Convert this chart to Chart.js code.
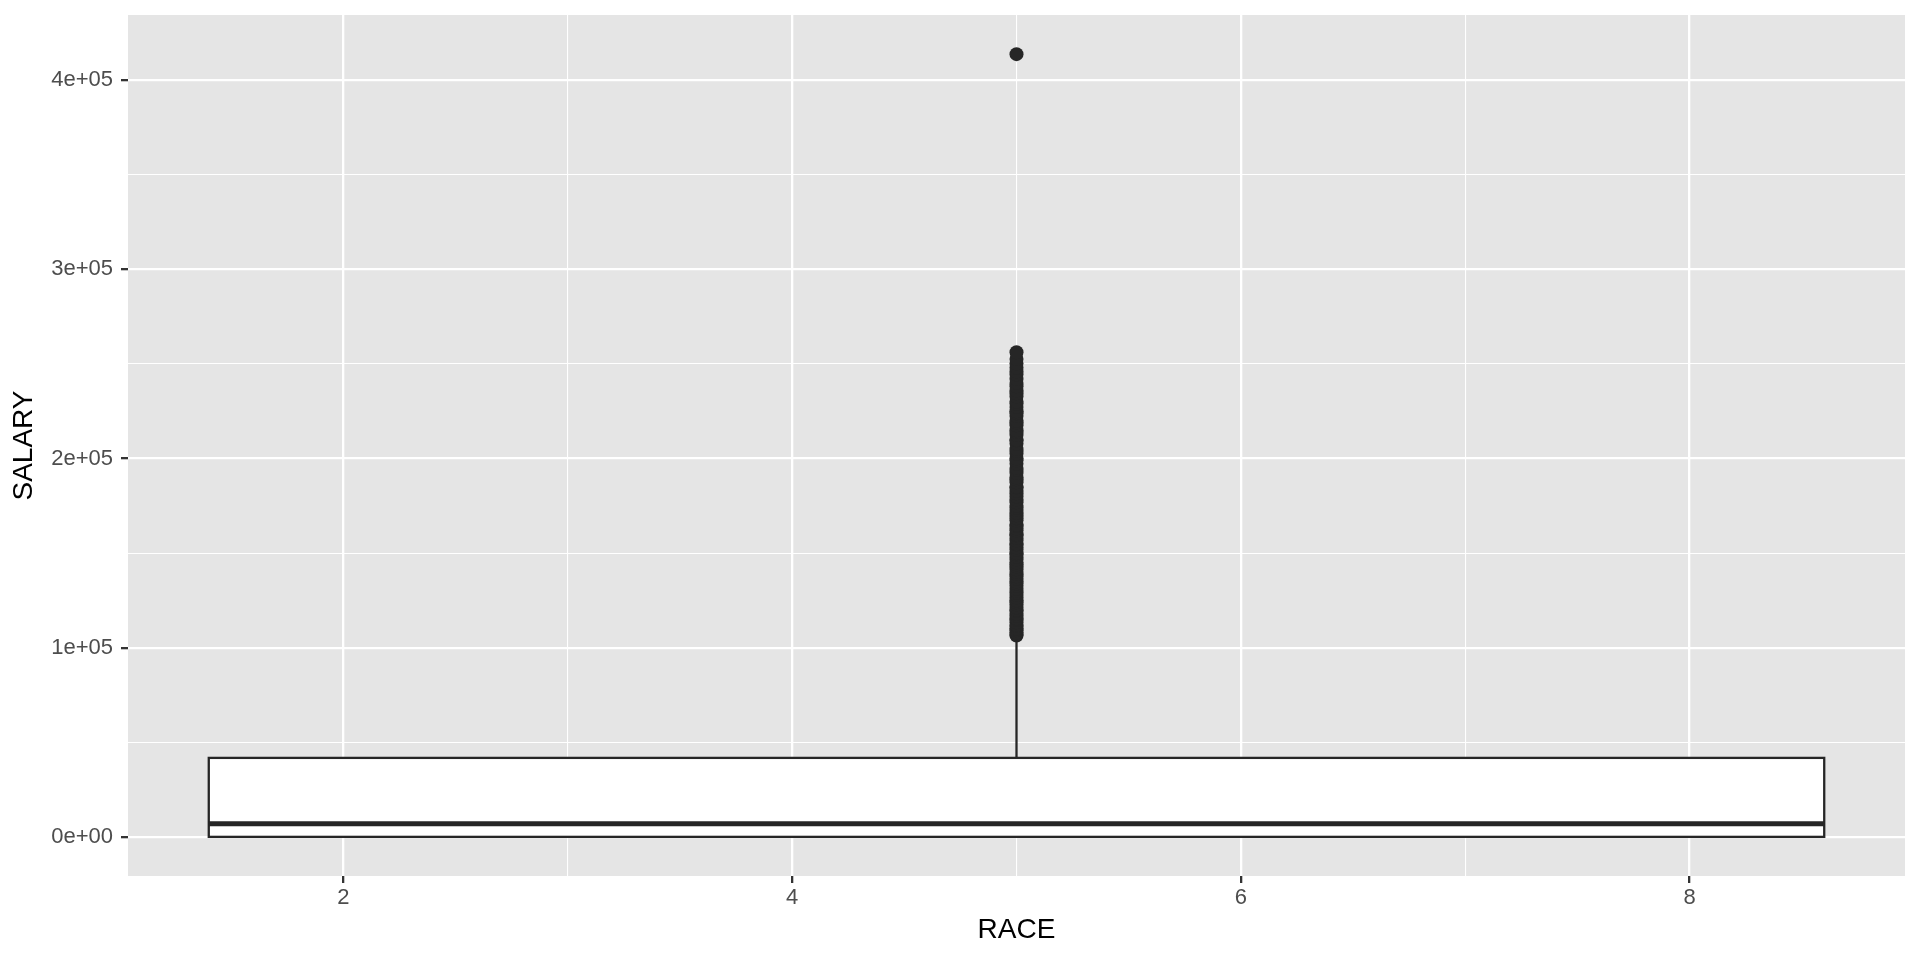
<!DOCTYPE html>
<html>
<head>
<meta charset="utf-8">
<title>SALARY by RACE</title>
<script src="https://cdn.jsdelivr.net/npm/chart.js@4.4.1/dist/chart.umd.min.js"></script>
<style>
  html, body { margin: 0; padding: 0; background: #fff; }
  #wrap { width: 1920px; height: 960px; position: relative; }
</style>
</head>
<body>
<div id="wrap"><canvas id="grafico"></canvas></div>
<script>
/* Boxplot SALARY x RACE (estilo ggplot) */

// caixa: RACE centrada em 5, largura de 1.4 a 8.6
const raceCenter = 5;
const boxXRange = [1.4, 8.6];
const boxStats = { lower: 0, median: 6870, upper: 41750, whiskerHigh: 104000 };

// outliers (SALARY)
const outliers = [
  106400, 107000, 108000, 109200, 110000, 111500, 112000, 113400, 114800, 115500,
  116900, 118000, 119500, 120000, 121300, 122800, 124000, 125000, 126500, 127900,
  129000, 130000, 131200, 132700, 134000, 135000, 136400, 137800, 139000, 140000,
  141500, 142900, 144000, 145000, 146600, 148000, 149300, 150000, 151800, 153000,
  154500, 155000, 156700, 158000, 159400, 160000, 161900, 163000, 164500, 165000,
  167200, 168500, 170000, 171400, 172800, 174000, 175000, 176900, 178300, 180000,
  181600, 183000, 184700, 185000, 187500, 189000, 190000, 192300, 194000, 195000,
  197200, 199000, 200000, 202500, 204000, 205000, 207800, 209500, 210000, 212400,
  214000, 215000, 217600, 219000, 220000, 222500, 224000, 225000, 227300, 229000,
  230000, 232800, 234500, 236000, 238200, 240000, 242000, 244500, 246000, 248000,
  250200, 252600, 256200, 413800
];

// eixos
const xLimits = [1.04, 8.96];
const xTickValues = [2, 3, 4, 5, 6, 7, 8];
const xTickLabels = ['2', '', '4', '', '6', '', '8'];
const yLimits = [-20690, 434490];
const yTickValues = [0, 50000, 100000, 150000, 200000, 250000, 300000, 350000, 400000];
const yTickLabels = ['0e+00', '', '1e+05', '', '2e+05', '', '3e+05', '', '4e+05'];

const TINTA = '#262626';
const FONTE = '"Liberation Sans", Arial, Helvetica, sans-serif';

// fundo cinza do painel
const fundoPainel = {
  id: 'fundoPainel',
  beforeDraw(chart) {
    const { ctx, chartArea: a } = chart;
    ctx.save();
    ctx.fillStyle = '#E5E5E5';
    ctx.fillRect(a.left, a.top, a.right - a.left, a.bottom - a.top);
    ctx.restore();
  }
};

// caixa (Q1..Q3) desenhada pelas escalas do gráfico
const caixa = {
  id: 'caixa',
  beforeDatasetsDraw(chart) {
    const { ctx, scales: { x, y } } = chart;
    const x0 = x.getPixelForValue(boxXRange[0]), x1 = x.getPixelForValue(boxXRange[1]);
    const y0 = y.getPixelForValue(boxStats.upper), y1 = y.getPixelForValue(boxStats.lower);
    ctx.save();
    ctx.fillStyle = '#FFFFFF';
    ctx.fillRect(x0, y0, x1 - x0, y1 - y0);
    ctx.lineWidth = 2.3;
    ctx.strokeStyle = TINTA;
    ctx.strokeRect(x0, y0, x1 - x0, y1 - y0);
    ctx.restore();
  }
};

function eixo(limites, valores, rotulos, extra) {
  const principal = c => c.tick && rotulos[valores.indexOf(c.tick.value)] !== '';
  return {
    type: 'linear',
    min: limites[0], max: limites[1],
    afterBuildTicks: s => { s.ticks = valores.map(v => ({ value: v })); },
    border: { display: false },
    grid: {
      color: '#FFFFFF',
      lineWidth: c => principal(c) ? 2.3 : 1.1,
      tickColor: c => principal(c) ? '#333333' : 'rgba(0,0,0,0)',
      tickWidth: 2.3,
      tickLength: 7
    },
    ticks: {
      autoSkip: false, maxRotation: 0, minRotation: 0,
      color: '#4D4D4D',
      font: { family: FONTE, size: 22 },
      callback: v => rotulos[valores.indexOf(v)] ?? ''
    },
    ...extra
  };
}

new Chart(document.getElementById('grafico'), {
  type: 'scatter',
  data: {
    datasets: [
      { label: 'outliers', order: 0,
        data: outliers.map(v => ({ x: raceCenter, y: v })),
        pointRadius: 7, pointBackgroundColor: TINTA, pointBorderWidth: 0, showLine: false },
      { label: 'mediana', order: 1,
        data: [{ x: boxXRange[0], y: boxStats.median }, { x: boxXRange[1], y: boxStats.median }],
        showLine: true, borderColor: TINTA, borderWidth: 5, pointRadius: 0, borderCapStyle: 'butt' },
      { label: 'bigode', order: 2,
        data: [{ x: raceCenter, y: boxStats.upper }, { x: raceCenter, y: boxStats.whiskerHigh }],
        showLine: true, borderColor: TINTA, borderWidth: 2.3, pointRadius: 0 }
    ]
  },
  options: {
    responsive: true, maintainAspectRatio: false, animation: false,
    devicePixelRatio: 1,
    layout: { padding: { top: 15, right: 15, left: 0, bottom: 0 } },
    plugins: { legend: { display: false }, tooltip: { enabled: false } },
    scales: {
      x: eixo(xLimits, xTickValues, xTickLabels, {
        position: 'bottom',
        afterFit: s => { s.height = 84; s.paddingLeft = 0; s.paddingRight = 0; },
        ticks: { autoSkip: false, maxRotation: 0, minRotation: 0, padding: 2,
                 color: '#4D4D4D', font: { family: FONTE, size: 22 },
                 callback: v => xTickLabels[xTickValues.indexOf(v)] ?? '' },
        title: { display: true, text: 'RACE', color: '#000000',
                 font: { family: FONTE, size: 28 }, padding: { top: 0, bottom: 13 } }
      }),
      y: eixo(yLimits, yTickValues, yTickLabels, {
        position: 'left',
        afterFit: s => { s.width = 128; s.paddingTop = 0; s.paddingBottom = 0; },
        ticks: { autoSkip: false, padding: 8,
                 color: '#4D4D4D', font: { family: FONTE, size: 22 },
                 callback: v => yTickLabels[yTickValues.indexOf(v)] ?? '' },
        title: { display: true, text: 'SALARY', color: '#000000',
                 font: { family: FONTE, size: 28 }, padding: { top: 7, bottom: 0 } }
      })
    }
  },
  plugins: [fundoPainel, caixa]
});
</script>
</body>
</html>
